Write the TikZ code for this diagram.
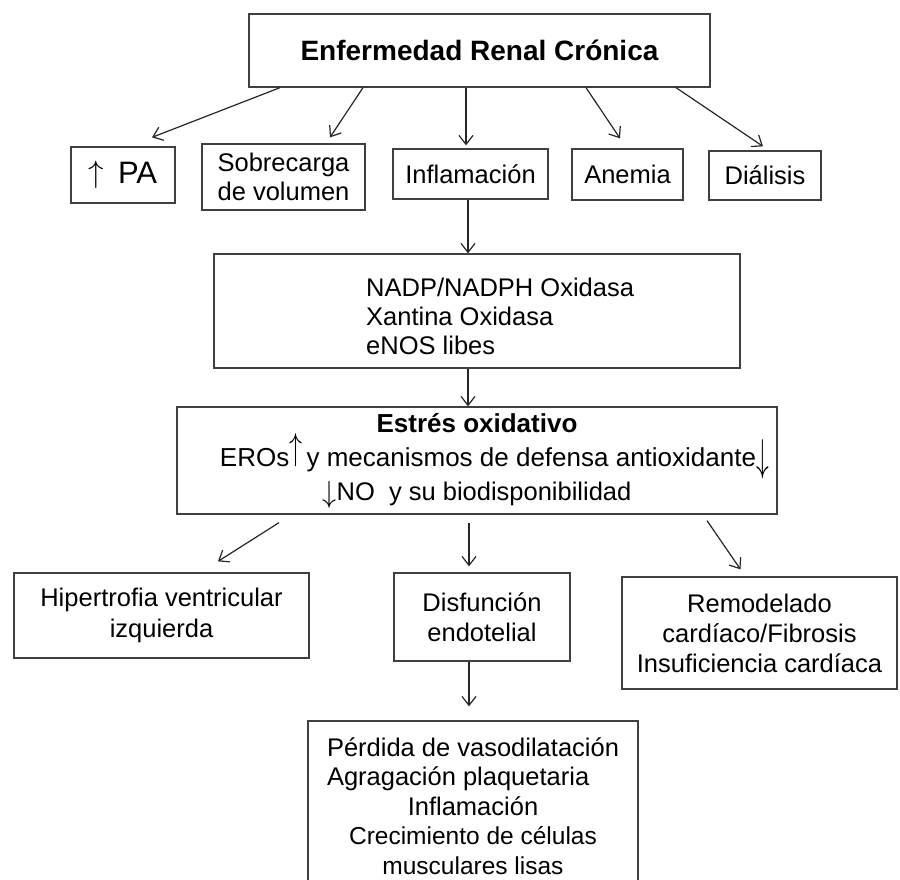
\documentclass[tikz,border=0pt]{standalone}
\usepackage{fix-cm}
\usepackage{fontspec}
\setmainfont{Liberation Sans}
\usetikzlibrary{arrows.meta}

\begin{document}
\begin{tikzpicture}[x=1pt, y=-1pt,
    caja/.style={draw=black!75, line width=1.3pt, rectangle, inner sep=0pt, align=center,
        font=\fontsize{25.5}{29.5}\selectfont},
    texto/.style={inner sep=0pt, font=\fontsize{25.5}{29}\selectfont},
    flecha/.style={-{Straight Barb[length=9pt,width=14pt,line width=1.2pt]}, line width=1.2pt, draw=black!85}]
\useasboundingbox (0,0) rectangle (900,879);
\clip (0,0) rectangle (900,879);
\fill[white] (0,0) rectangle (900,879);

\node[caja, minimum width=461pt, minimum height=73pt, font=\fontsize{28}{32}\selectfont\bfseries] (erc) at (479.5,50.5) {Enfermedad Renal Crónica};

\node[caja, minimum width=104pt, minimum height=56pt, font=\fontsize{31}{34}\selectfont] (pa) at (123,175) {\raisebox{1pt}{$\uparrow$}\ \,PA};
\node[caja, minimum width=163pt, minimum height=66pt] (sobre) at (283.5,177) {Sobrecarga\\de volumen};
\node[caja, minimum width=155pt, minimum height=50pt] (infl) at (470.5,174) {Inflamación};
\node[caja, minimum width=111pt, minimum height=51pt] (anemia) at (627.5,174.5) {Anemia};
\node[caja, minimum width=112pt, minimum height=49pt] (dial) at (765,175.5) {Diálisis};

\node[caja, minimum width=526pt, minimum height=114pt] (oxid) at (477,311) {};
\node[texto, anchor=west, align=left] (oxidtxt) at (366,316) {NADP/NADPH Oxidasa\\Xantina Oxidasa\\eNOS libes};

\node[caja, minimum width=600pt, minimum height=107pt, font=\fontsize{25.5}{34}\selectfont] (estres) at (477,460.5)
    {{\fontsize{26}{34}\selectfont\bfseries Estrés oxidativo}\\
     \hspace*{22pt}{\fontsize{26}{34}\selectfont EROs\raisebox{7pt}{\scalebox{1}[1.45]{$\uparrow$}}\,y mecanismos de defensa antioxidante}\rlap{\raisebox{-4pt}{\scalebox{1}[1.75]{$\downarrow$}}}\\
     \raisebox{-2pt}{\scalebox{1.1}[1.2]{$\downarrow$}}NO\ \ y su biodisponibilidad};

\node[caja, minimum width=295pt, minimum height=85pt, font=\fontsize{25.5}{31}\selectfont] (hvi) at (161.5,615.5) {Hipertrofia ventricular\\izquierda};
\node[caja, minimum width=176pt, minimum height=88pt, font=\fontsize{25.5}{30}\selectfont] (disf) at (482,617) {Disfunción\\endotelial};
\node[caja, minimum width=275pt, minimum height=112pt, font=\fontsize{25.5}{30}\selectfont] (remod) at (759.5,633) {Remodelado\\cardíaco/Fibrosis\\Insuficiencia cardíaca};

\node[caja, minimum width=330pt, minimum height=170pt] (perd) at (473,806)
    {\makebox[292pt][l]{Pérdida de vasodilatación}\\
     \makebox[292pt][l]{Agragación plaquetaria}\\
     Inflamación\\
     {\fontsize{24.5}{29.5}\selectfont Crecimiento de células}\\
     {\fontsize{24.5}{29.5}\selectfont musculares lisas}};

\draw[flecha] ([xshift=-199.5pt]erc.south) -- ([xshift=29pt,yshift=9pt]pa.north);
\draw[flecha] ([xshift=-116.5pt]erc.south) -- ([xshift=46.5pt,yshift=6pt]sobre.north);
\draw[flecha] ([xshift=-13.5pt]erc.south) -- ([xshift=-4.5pt,yshift=3pt]infl.north);
\draw[flecha] ([xshift=106.5pt]erc.south) -- ([xshift=-7.5pt,yshift=10pt]anemia.north);
\draw[flecha] ([xshift=196.5pt]erc.south) -- ([xshift=-2pt,yshift=4pt]dial.north);

\draw[flecha] ([xshift=-2.5pt]infl.south) -- ([xshift=-9pt]oxid.north);
\draw[flecha] ([xshift=-9pt]oxid.south) -- ([xshift=-9pt]estres.north);

\draw[flecha] ([xshift=-198pt,yshift=-8pt]estres.south) -- ([xshift=56.5pt,yshift=11pt]hvi.north);
\draw[flecha] ([xshift=-8pt,yshift=-8pt]estres.south) -- ([xshift=-13pt,yshift=6pt]disf.north);
\draw[flecha] ([xshift=230pt,yshift=-6pt]estres.south) -- ([xshift=-19pt,yshift=7pt]remod.north);

\draw[flecha] ([xshift=-13pt]disf.south) -- ([xshift=-4pt,yshift=14pt]perd.north);
\end{tikzpicture}
\end{document}
